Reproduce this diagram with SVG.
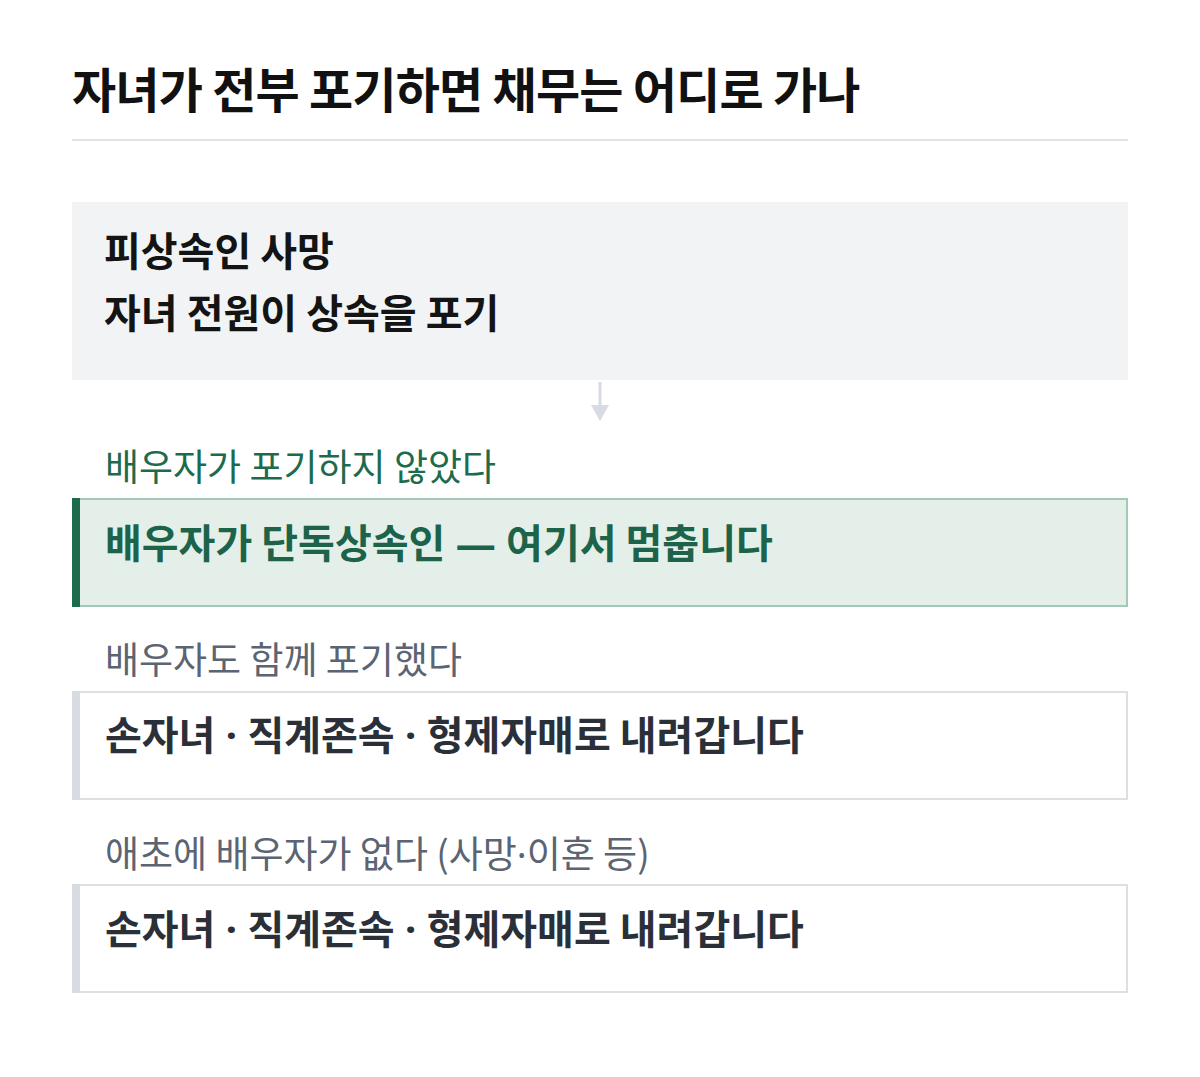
<svg xmlns="http://www.w3.org/2000/svg" width="1200" height="1077" viewBox="0 0 1200 1077">
<style>
text{font-family:"Noto Sans CJK KR","Noto Sans",sans-serif;}
.title{font-size:48px;font-weight:700;fill:#111111;letter-spacing:-0.8px;}
.main{font-size:40px;font-weight:700;fill:#141414;}
.lbl{font-size:37px;font-weight:400;fill:#5b6472;}
.lblg{font-size:37px;font-weight:400;fill:#1d6b4c;}
.res{font-size:40px;font-weight:700;fill:#2b3038;}
.resg{font-size:40px;font-weight:700;fill:#1d6349;}
.lat{font-family:"Noto Sans",sans-serif;}
.box{fill:#ffffff;stroke:#dcdfe4;stroke-width:2;}
.bar{fill:#d7dbe2;}
</style>
<rect x="0" y="0" width="1200" height="1077" fill="#ffffff"/>
<g id="header">
<text class="title" x="72" y="108">자녀가 전부 포기하면 채무는 어디로 가나</text>
<rect x="72" y="139" width="1056" height="2" fill="#dfe2e7"/>
</g>
<g id="start">
<rect x="72" y="202" width="1056" height="178" fill="#f2f3f5"/>
<text class="main" x="104" y="266">피상속인 사망</text>
<text class="main" x="104" y="328">자녀 전원이 상속을 포기</text>
</g>
<g id="connectors">
<line x1="600" y1="382" x2="600" y2="406" stroke="#d7dbe2" stroke-width="3"/>
<polygon points="591,405 609,405 600,421" fill="#d7dbe2"/>
</g>
<g id="case1">
<text class="lblg" x="105" y="481">배우자가 포기하지 않았다</text>
<rect x="73" y="499" width="1054" height="107" fill="#e4efe9" stroke="#a2cbb7" stroke-width="2"/>
<rect x="72" y="498" width="8" height="109" fill="#1d6b4c"/>
<text class="resg" x="105" y="558">배우자가 단독상속인<tspan class="lat"> — </tspan>여기서 멈춥니다</text>
</g>
<g id="case2">
<text class="lbl" x="105" y="674">배우자도 함께 포기했다</text>
<rect x="73" y="692" width="1054" height="107" class="box"/>
<rect x="72" y="691" width="8" height="109" class="bar"/>
<text class="res" x="105" y="750">손자녀<tspan class="lat"> · </tspan>직계존속<tspan class="lat"> · </tspan>형제자매로 내려갑니다</text>
</g>
<g id="case3">
<text class="lbl" x="105" y="868">애초에 배우자가 없다 (사망<tspan class="lat">·</tspan>이혼 등)</text>
<rect x="73" y="885" width="1054" height="107" class="box"/>
<rect x="72" y="884" width="8" height="109" class="bar"/>
<text class="res" x="105" y="944">손자녀<tspan class="lat"> · </tspan>직계존속<tspan class="lat"> · </tspan>형제자매로 내려갑니다</text>
</g>
</svg>
